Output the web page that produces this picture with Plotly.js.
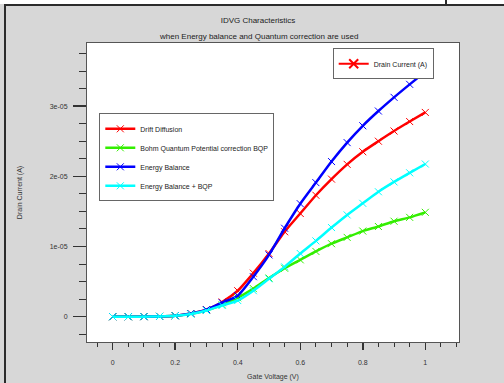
<!DOCTYPE html>
<html><head><meta charset="utf-8">
<script src="https://cdn.plot.ly/plotly-3.0.1.min.js"></script>
<style>
html,body{margin:0;padding:0;background:#fff;}
#wrap{position:relative;width:504px;height:383px;overflow:hidden;}
#chart{position:absolute;left:0;top:0;width:504px;height:383px;}
.f{position:absolute;background:#2b2b2b;}
</style></head><body>
<div id="wrap"><div id="chart"></div>
<div class="f" style="left:0;top:0;width:504px;height:4px;background:#fff"></div>
<div class="f" style="left:4px;top:4px;width:500px;height:2px"></div>
<div class="f" style="left:4px;top:4px;width:2px;height:379px"></div>
<div class="f" style="left:445px;top:0;width:2px;height:5px"></div>
</div>
<script>
// Gate voltage (V)
const gateVoltage = [0, 0.05, 0.1, 0.15, 0.2, 0.25, 0.3, 0.35, 0.4, 0.45, 0.5,
                     0.55, 0.6, 0.65, 0.7, 0.75, 0.8, 0.85, 0.9, 0.95, 1.0];
// Drain current (A)
const driftDiffusion = [0, 0, 0.001e-5, 0.004e-5, 0.015e-5, 0.045e-5, 0.10e-5, 0.21e-5, 0.37e-5, 0.62e-5, 0.90e-5,
                        1.21e-5, 1.47e-5, 1.73e-5, 1.96e-5, 2.17e-5, 2.35e-5, 2.50e-5, 2.645e-5, 2.78e-5, 2.91e-5];
const bohmQuantum = [0, 0, 0.001e-5, 0.004e-5, 0.014e-5, 0.04e-5, 0.09e-5, 0.17e-5, 0.27e-5, 0.40e-5, 0.55e-5,
                     0.69e-5, 0.81e-5, 0.93e-5, 1.04e-5, 1.13e-5, 1.22e-5, 1.285e-5, 1.36e-5, 1.415e-5, 1.487e-5];
const energyBalance = [0, 0, 0.001e-5, 0.004e-5, 0.014e-5, 0.045e-5, 0.10e-5, 0.20e-5, 0.30e-5, 0.57e-5, 0.88e-5,
                       1.26e-5, 1.61e-5, 1.91e-5, 2.21e-5, 2.48e-5, 2.72e-5, 2.93e-5, 3.125e-5, 3.31e-5, 3.49e-5];
const energyBalanceBQP = [0, 0, 0.001e-5, 0.004e-5, 0.013e-5, 0.038e-5, 0.088e-5, 0.16e-5, 0.23e-5, 0.37e-5, 0.54e-5,
                          0.71e-5, 0.90e-5, 1.08e-5, 1.27e-5, 1.45e-5, 1.615e-5, 1.78e-5, 1.92e-5, 2.05e-5, 2.175e-5];

const seriesNames = ['Drift Diffusion', 'Bohm Quantum Potential correction BQP', 'Energy Balance', 'Energy Balance + BQP'];
const seriesColors = ['#ff0000', '#33ee00', '#0000ff', '#00ffff'];
const seriesValues = [driftDiffusion, bohmQuantum, energyBalance, energyBalanceBQP];

const yTickVals = [0, 1e-5, 2e-5, 3e-5];
const yTickText = ['0', '1e-05', '2e-05', '3e-05'];
const xTickVals = [0, 0.2, 0.4, 0.6, 0.8, 1];
const xTickText = ['0', '0.2', '0.4', '0.6', '0.8', '1'];

const traces = seriesValues.map((vals, i) => ({
  x: gateVoltage, y: vals, name: seriesNames[i], type: 'scatter', mode: 'lines+markers',
  line: {color: seriesColors[i], width: 2.5, shape: 'spline', smoothing: 0.6},
  marker: {symbol: 'x-thin-open', size: 7, color: seriesColors[i], line: {color: seriesColors[i], width: 1}},
  legend: 'legend'
}));
traces.push({
  x: [null], y: [null], name: 'Drain Current (A)', type: 'scatter', mode: 'lines+markers',
  line: {color: '#ff0000', width: 2},
  marker: {symbol: 'x-thin-open', size: 9, color: '#ff0000', line: {color: '#ff0000', width: 2}},
  legend: 'legend2', hoverinfo: 'skip'
});

const L = 87, R = 45, T = 43, B = 41, W = 504, H = 383;
const pw = W - L - R, ph = H - T - B;
const px = v => (v - L) / pw;
const py = v => (H - B - v) / ph;

const layout = {
  width: W, height: H,
  paper_bgcolor: '#d7d7d7', plot_bgcolor: '#ffffff',
  margin: {l: L, r: R, t: T, b: B, pad: 0},
  font: {family: '"Liberation Sans", Arial, Helvetica, sans-serif', size: 7, color: '#333'},
  showlegend: true,
  title: {text: 'IDVG Characteristics', font: {size: 8, color: '#222'},
          xref: 'container', x: 258 / W, xanchor: 'center',
          yref: 'container', y: 1 - 20 / H, yanchor: 'middle'},
  annotations: [{
    text: 'when Energy balance and Quantum correction are used', showarrow: false,
    xref: 'paper', yref: 'paper', x: px(258), y: py(36), xanchor: 'center', yanchor: 'middle',
    font: {size: 8, color: '#222'}
  }],
  xaxis: {
    range: [-0.0822, 1.1078], tickvals: xTickVals, ticktext: xTickText,
    showline: true, linecolor: '#555', linewidth: 1, mirror: true,
    ticks: 'outside', ticklen: 7, tickwidth: 1.5, tickcolor: '#333',
    minor: {dtick: 0.05, tick0: 0, ticks: 'outside', ticklen: 4, tickwidth: 1, tickcolor: '#333'},
    showgrid: false, zeroline: false, ticklabelstandoff: 7,
    tickfont: {size: 7, color: '#333'},
    title: {text: 'Gate Voltage (V)', standoff: 8, font: {size: 7, color: '#333'}}
  },
  yaxis: {
    range: [-0.3604e-5, 3.899e-5], tickvals: yTickVals, ticktext: yTickText,
    showline: true, linecolor: '#555', linewidth: 1, mirror: true,
    ticks: 'outside', ticklen: 13, tickwidth: 1.5, tickcolor: '#333',
    minor: {dtick: 0.25e-5, tick0: 0, ticks: 'outside', ticklen: 7, tickwidth: 1, tickcolor: '#333'},
    showgrid: false, zeroline: false, ticklabelstandoff: 4,
    tickfont: {size: 7, color: '#333'},
    title: {text: 'Drain Current (A)', standoff: 26, font: {size: 7, color: '#333'}}
  },
  legend: {
    x: px(99.3), y: py(113.3), xanchor: 'left', yanchor: 'top',
    bgcolor: '#ffffff', bordercolor: '#666', borderwidth: 1,
    font: {size: 7, color: '#222'}, itemwidth: 30, traceorder: 'normal',
    entrywidth: 160, entrywidthmode: 'pixels'
  },
  legend2: {
    x: px(332.7), y: py(48.3), xanchor: 'left', yanchor: 'top',
    bgcolor: '#ffffff', bordercolor: '#666', borderwidth: 1,
    font: {size: 7, color: '#222'}, itemwidth: 30,
    entrywidth: 72, entrywidthmode: 'pixels'
  }
};

Plotly.newPlot('chart', traces, layout, {staticPlot: true, displayModeBar: false});
</script>
</body></html>
